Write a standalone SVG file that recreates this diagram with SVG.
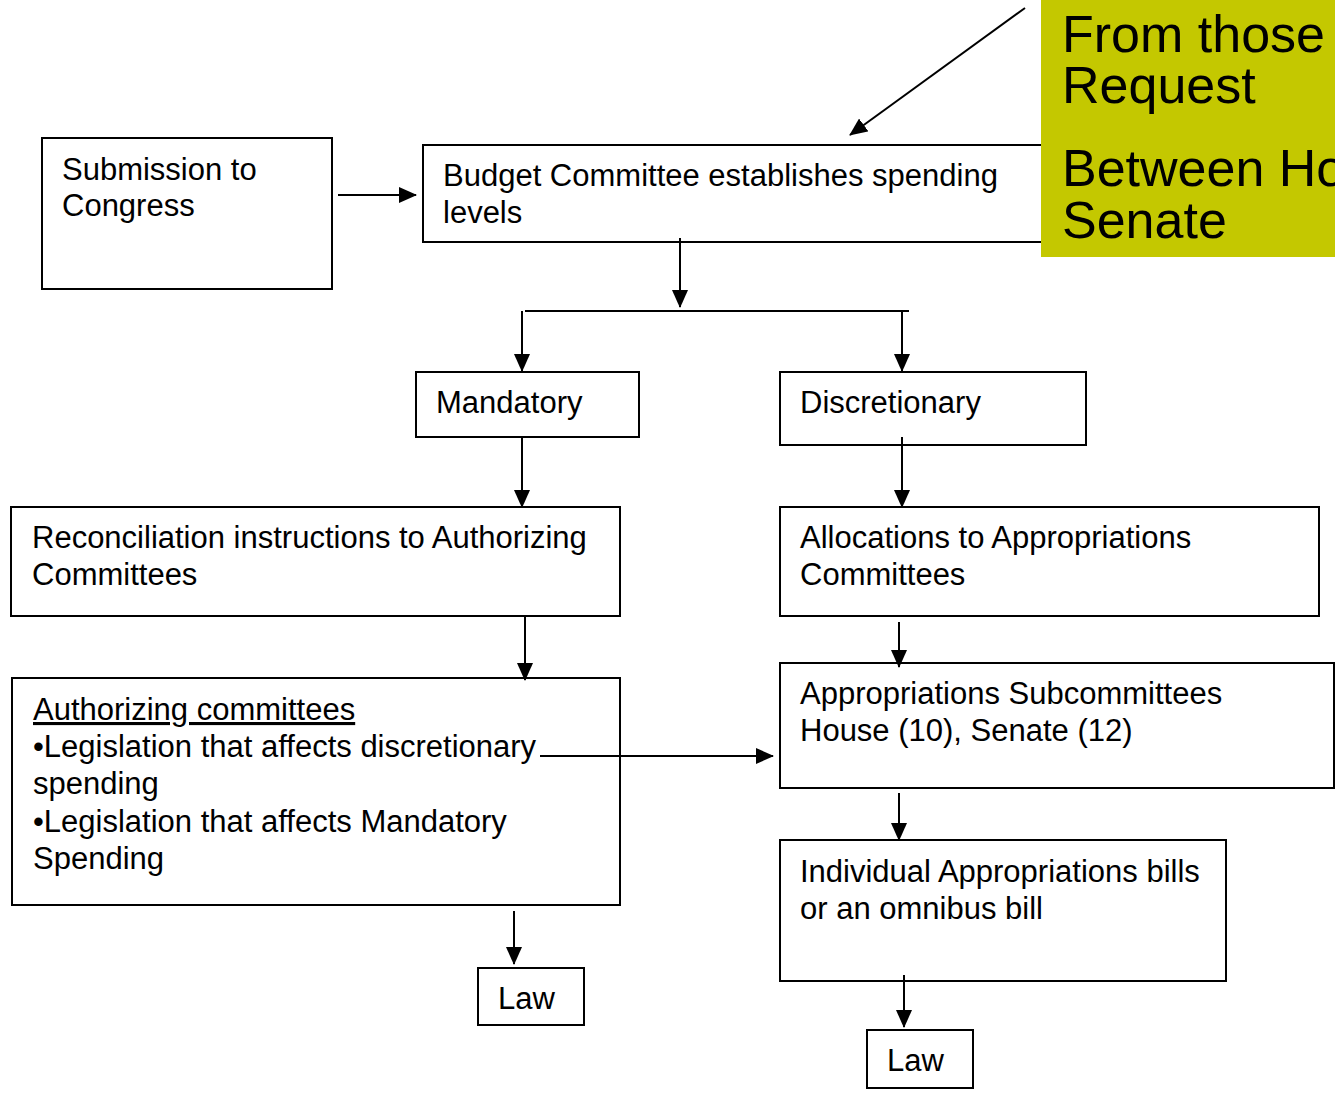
<svg xmlns="http://www.w3.org/2000/svg" width="1335" height="1095" viewBox="0 0 1335 1095">
<defs>
<marker id="ah" markerWidth="18" markerHeight="16" refX="17" refY="8" orient="auto" markerUnits="userSpaceOnUse" viewBox="0 0 18 16">
<path d="M0,0 L18,8 L0,16 z" fill="#000"/>
</marker>
<style>
.box{fill:#fff;stroke:#000;stroke-width:2}
.t{font-family:"Liberation Sans",Arial,sans-serif;font-size:31px;fill:#000}
.big{font-family:"Liberation Sans",Arial,sans-serif;font-size:52px;fill:#000}
.c{stroke:#000;stroke-width:2;fill:none}
.a{marker-end:url(#ah)}
</style>
</defs>
<rect width="1335" height="1095" fill="#fff"/>
<g id="submission">
<rect class="box" x="42" y="138" width="290" height="151"/>
<text class="t" x="62" y="180">Submission to</text>
<text class="t" x="62" y="216">Congress</text>
</g>
<g id="budget">
<rect class="box" x="423" y="145" width="640" height="97"/>
<text class="t" x="443" y="186">Budget Committee establishes spending</text>
<text class="t" x="443" y="223">levels</text>
</g>
<g id="mandatory">
<rect class="box" x="416" y="372" width="223" height="65"/>
<text class="t" x="436" y="413">Mandatory</text>
</g>
<g id="discretionary">
<rect class="box" x="780" y="372" width="306" height="73"/>
<text class="t" x="800" y="413">Discretionary</text>
</g>
<g id="reconciliation">
<rect class="box" x="11" y="507" width="609" height="109"/>
<text class="t" x="32" y="548">Reconciliation instructions to Authorizing</text>
<text class="t" x="32" y="585">Committees</text>
</g>
<g id="allocations">
<rect class="box" x="780" y="507" width="539" height="109"/>
<text class="t" x="800" y="548">Allocations to Appropriations</text>
<text class="t" x="800" y="585">Committees</text>
</g>
<g id="authorizing">
<rect class="box" x="12" y="678" width="608" height="227"/>
<text class="t" x="33" y="720" text-decoration="underline">Authorizing committees</text>
<text class="t" x="33" y="757">•Legislation that affects discretionary</text>
<text class="t" x="33" y="794">spending</text>
<text class="t" x="33" y="832">•Legislation that affects Mandatory</text>
<text class="t" x="33" y="869">Spending</text>
</g>
<g id="subcommittees">
<rect class="box" x="780" y="663" width="554" height="125"/>
<text class="t" x="800" y="704">Appropriations Subcommittees</text>
<text class="t" x="800" y="741">House (10), Senate (12)</text>
</g>
<g id="individual">
<rect class="box" x="780" y="840" width="446" height="141"/>
<text class="t" x="800" y="882">Individual Appropriations bills</text>
<text class="t" x="800" y="919">or an omnibus bill</text>
</g>
<g id="law1">
<rect class="box" x="478" y="968" width="106" height="57"/>
<text class="t" x="498" y="1009">Law</text>
</g>
<g id="law2">
<rect class="box" x="867" y="1030" width="106" height="58"/>
<text class="t" x="887" y="1071">Law</text>
</g>
<g id="connectors">
<line class="c a" x1="338" y1="195" x2="416" y2="195"/>
<line class="c a" x1="1025" y1="8" x2="850" y2="135"/>
<line class="c a" x1="680" y1="238" x2="680" y2="307"/>
<line class="c" x1="525" y1="311" x2="909" y2="311"/>
<line class="c a" x1="522" y1="311" x2="522" y2="371"/>
<line class="c a" x1="902" y1="311" x2="902" y2="371"/>
<line class="c a" x1="522" y1="437" x2="522" y2="507"/>
<line class="c a" x1="902" y1="437" x2="902" y2="507"/>
<line class="c a" x1="525" y1="616" x2="525" y2="680"/>
<line class="c a" x1="899" y1="622" x2="899" y2="667"/>
<line class="c a" x1="540" y1="756" x2="773" y2="756"/>
<line class="c a" x1="899" y1="793" x2="899" y2="840"/>
<line class="c a" x1="514" y1="911" x2="514" y2="964"/>
<line class="c a" x1="904" y1="975" x2="904" y2="1027"/>
</g>
<g id="note">
<rect x="1041" y="0" width="294" height="257" fill="#c4c800"/>
<text class="big" x="1062" y="52">From those</text>
<text class="big" x="1062" y="103">Request</text>
<text class="big" x="1062" y="186">Between House and</text>
<text class="big" x="1062" y="238">Senate</text>
</g>
</svg>
